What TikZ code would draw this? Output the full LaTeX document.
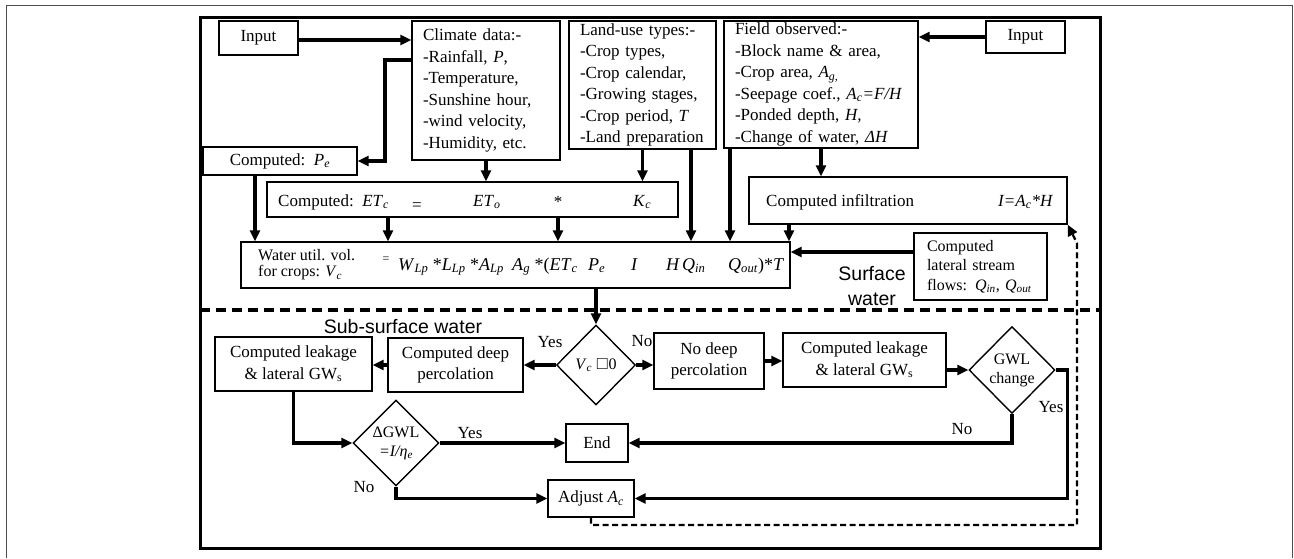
\documentclass[tikz,border=0pt]{standalone}
\usepackage{amssymb}
\usepackage{fontspec}
\setmainfont{Liberation Serif}
\newfontfamily\nhanfont{Liberation Sans}
\usetikzlibrary{arrows.meta,shapes.geometric}
\newcommand{\bien}[2]{\textit{#1}\textsubscript{\textit{#2}}}
\tikzset{
  hop/.style={draw, line width=1.4pt, inner xsep=11pt, inner ysep=2pt, align=left},
  hopgiua/.style={draw, line width=1.4pt, align=center, inner sep=2pt},
  thoi/.style={diamond, draw, line width=1.4pt, align=center, inner sep=0pt, font=\fontsize{16}{19}\selectfont},
  muiten/.style={-{Triangle[length=11pt,width=10pt]}, line width=3.2pt},
  hoitiep/.style={-{Triangle[length=11pt,width=10pt]}, line width=2.2pt, dash pattern=on 6pt off 3.5pt},
  chu/.style={inner sep=0pt},
  vung/.style={font=\nhanfont\fontsize{19.5}{25}\selectfont, align=center, inner sep=0pt}
}
\begin{document}
\begin{tikzpicture}[x=1pt,y=-1pt,font=\fontsize{17}{21.5}\selectfont]
    \useasboundingbox (0,0) rectangle (1294,558);
    % Khung ngoai
    \draw[gray!60!black, line width=1pt] (6,558) -- (6,5) -- (1292,5) -- (1292,558);
    \draw[line width=3pt] (200,17) rectangle (1100,548);

    % Du lieu vao
    \node[hopgiua, minimum width=79pt, minimum height=34pt] (inL) at (258.5,38) {Input};
    \node[hopgiua, minimum width=79pt, minimum height=32pt] (inR) at (1025.5,37) {Input};
    \node[hop, text width=126pt, minimum height=139pt] (climate) at (486,90.5)
      {Climate data:-\\-Rainfall, \textit{P},\\-Temperature,\\-Sunshine hour,\\-wind velocity,\\-Humidity, etc.};
    \node[hop, text width=125pt, minimum height=128pt] (landuse) at (642.5,85)
      {Land-use types:-\\-Crop types,\\-Crop calendar,\\-Growing stages,\\-Crop period, \textit{T}\\-Land preparation};
    \node[hop, text width=172pt, minimum height=127pt] (field) at (821,84.5)
      {Field observed:-\\-Block name \& area,\\-Crop area, \bien{A}{g,}\\-Seepage coef., \bien{A}{c}\textit{=F/H}\\-Ponded depth, \textit{H,}\\-Change of water, \textit{ΔH}};
    \node[hopgiua, minimum width=154pt, minimum height=28pt] (pe) at (280,161) {Computed:~~\bien{P}{e}};

    % O tinh ETc
    \node[draw, line width=1.4pt, minimum width=411pt, minimum height=35pt] (etc) at (472.5,199.5) {};
    \node[chu, anchor=base west] (etcA) at (278,206) {Computed:~~\bien{ET}{c}};
    \node[chu, anchor=base] (etcB) at (417,210) {=};
    \node[chu, anchor=base west] (etcC) at (473,206) {\bien{ET}{o}};
    \node[chu, anchor=base] (etcD) at (558,207) {*};
    \node[chu, anchor=base west] (etcE) at (633,206) {\bien{K}{c}};

    % O tham
    \node[draw, line width=1.4pt, minimum width=318pt, minimum height=47pt] (infil) at (908,200.5) {};
    \node[chu, anchor=base west] (infilA) at (766,206) {Computed infiltration};
    \node[chu, anchor=base west] (infilB) at (998,206) {\textit{I=}\bien{A}{c}\textit{*H}};

    % O luong nuoc
    \node[draw, line width=1.4pt, minimum width=549pt, minimum height=46pt] (water) at (515.5,265) {};
    \node[chu, anchor=west, align=left, font=\fontsize{16}{16}\selectfont] (waterA) at (258,265)
      {Water util. vol.\\for crops: \bien{V}{c}};
    \node[chu, font=\fontsize{12}{12}\selectfont] (waterB) at (386,260) {=};
    \begin{scope}[every node/.style={chu, anchor=base west, font=\fontsize{18}{20}\selectfont}]
      \node (f1) at (398,270) {\bien{W}{Lp} *\bien{L}{Lp} *\bien{A}{Lp}};
      \node (f2) at (512,270) {\bien{A}{g} *(\bien{ET}{c}};
      \node (f3) at (588,270) {\bien{P}{e}};
      \node (f4) at (631,270) {\textit{I}};
      \node (f5) at (666,270) {\textit{H}};
      \node (f6) at (682,270) {\bien{Q}{in}};
      \node (f7) at (728,270) {\bien{Q}{out})*\textit{T}};
    \end{scope}
    \node[hop, inner xsep=13pt, text width=107pt, minimum height=67pt, font=\fontsize{16}{19.5}\selectfont] (lateral) at (980.5,266.5)
      {Computed\\lateral stream\\flows: \bien{Q}{in}, \bien{Q}{out}};

    % Ranh gioi mat / ngam
    \node[vung] (surf) at (872,286) {Surface\\water};
    \draw[line width=3.5pt, dash pattern=on 10pt off 6pt] (200,310) -- (1100,310);
    \node[vung] (subsurf) at (403,327) {Sub-surface water};

    % Phan duoi
    \node[thoi, minimum width=79pt, minimum height=80pt] (vc) at (596,365) {\bien{V}{c} \ensuremath{\square}0};
    \node[hopgiua, minimum width=135pt, minimum height=54pt] (deep) at (455.5,365) {Computed deep\\percolation};
    \node[hopgiua, minimum width=157pt, minimum height=54pt] (leak1) at (293.5,364) {Computed leakage\\\& lateral GW\textsubscript{s}};
    \node[hopgiua, minimum width=110pt, minimum height=56pt] (nodeep) at (709,361) {No deep\\percolation};
    \node[hopgiua, minimum width=163pt, minimum height=54pt] (leak2) at (864.5,360) {Computed leakage\\\& lateral GW\textsubscript{s}};
    \node[thoi, minimum width=86pt, minimum height=87pt] (gwl) at (1012,370) {GWL\\change};
    \node[thoi, minimum width=86pt, minimum height=86pt] (dgwl) at (396,443) {ΔGWL\\\textit{=I/η}\textsubscript{\textit{e}}};
    \node[hopgiua, minimum width=62pt, minimum height=38pt] (end) at (597,443) {End};
    \node[hopgiua, minimum width=86pt, minimum height=37pt] (adjust) at (591,498.5) {Adjust~\bien{A}{c}};

    % Nhan Yes / No
    \node[chu] (yes1) at (550,342) {Yes};
    \node[chu] (no1) at (642,341) {No};
    \node[chu] (yes2) at (470,433) {Yes};
    \node[chu] (no2) at (364,487) {No};
    \node[chu] (yes3) at (1051,407) {Yes};
    \node[chu] (no3) at (962,429) {No};

    % Mui ten phan tren
    \draw[muiten] (inL.east |- 0,40) -- (climate.west |- 0,40);
    \draw[muiten] (inR.west) -- (inR.west -| field.east);
    \draw[muiten] (climate.west |- 0,60) -- (385,60) |- (pe.east);
    \draw[muiten] (climate.south) -- (climate.south |- etc.north);
    \draw[muiten] (landuse.south) -- (landuse.south |- etc.north);
    \draw[muiten] (landuse.south -| 691,0) -- (water.north -| 691,0);
    \draw[muiten] (field.south -| 730,0) -- (water.north -| 730,0);
    \draw[muiten] (field.south) -- (field.south |- infil.north);
    \draw[muiten] (pe.south -| 255,0) -- (water.north -| 255,0);
    \draw[muiten] (etc.south -| 388,0) -- (water.north -| 388,0);
    \draw[muiten] (etc.south -| 558,0) -- (water.north -| 558,0);
    \draw[muiten] (infil.south -| 789,0) -- (water.north -| 789,0);
    \draw[muiten] (lateral.west |- 0,252) -- (water.east |- 0,252);

    % Mui ten phan duoi
    \draw[muiten] (water.south -| vc.north) -- (vc.north);
    \draw[muiten] (vc.west) -- (vc.west -| deep.east);
    \draw[muiten] (deep.west) -- (deep.west -| leak1.east);
    \draw[muiten] (leak1.south) |- (dgwl.west);
    \draw[muiten] (dgwl.east) -- (dgwl.east -| end.west);
    \draw[muiten] (dgwl.south) |- (adjust.west);
    \draw[muiten] (vc.east) -- (vc.east -| nodeep.west);
    \draw[muiten] (nodeep.east) -- (nodeep.east -| leak2.west);
    \draw[muiten] (gwl.west -| leak2.east) -- (gwl.west);
    \draw[muiten] (gwl.east) -- ++(12,0) |- (adjust.east);
    \draw[muiten] (gwl.south) |- (end.east);
    \draw[hoitiep] (adjust.south) |- (1077,525) -- (1077,243) -- (infil.south east);
\end{tikzpicture}
\end{document}
